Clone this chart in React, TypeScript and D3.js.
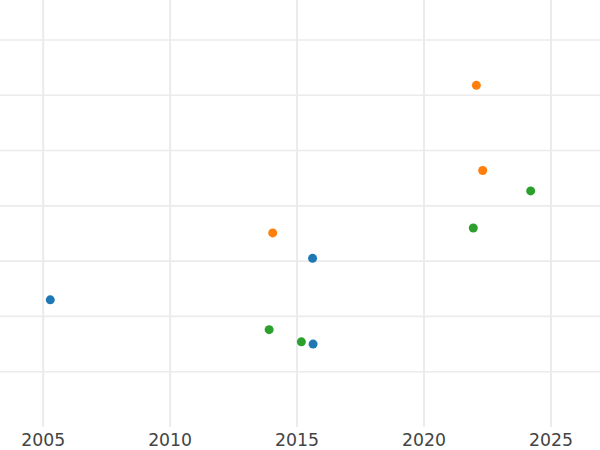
import React from "react";
import * as d3 from "d3";

const W = 600;
const H = 450;

const xTicks = [2005, 2010, 2015, 2020, 2025];
const yGrid = [10, 20, 30, 40, 50, 60, 70];

const seriesNames = ["blue", "orange", "green"];
const seriesColors = ["#1f77b4", "#ff7f0e", "#2ca02c"];

const blueX = [2005.28, 2015.61, 2015.63];
const blueY = [23.0, 30.5, 15.0];
const orangeX = [2022.06, 2022.31, 2014.04];
const orangeY = [61.8, 46.4, 35.1];
const greenX = [2024.2, 2021.94, 2013.9, 2015.17];
const greenY = [42.7, 36.0, 17.6, 15.4];

export default function App() {
  const plotBottom = 427;
  const x = d3.scaleLinear().domain([2003.3, 2026.93]).range([0, W]);
  const y = d3.scaleLinear().domain([0, 77.23]).range([plotBottom, 0]);
  const series = [
    { xs: blueX, ys: blueY },
    { xs: orangeX, ys: orangeY },
    { xs: greenX, ys: greenY },
  ];
  return (
    <svg
      width={W}
      height={H}
      style={{ position: "absolute", left: 0, top: 0, background: "#fff" }}
    >
      <g>
        {yGrid.map((v) => (
          <line key={"y" + v} x1={0} x2={W} y1={y(v)} y2={y(v)} stroke="#ebebeb" strokeWidth={1.6} />
        ))}
        {xTicks.map((t) => (
          <line key={"x" + t} x1={x(t)} x2={x(t)} y1={0} y2={plotBottom} stroke="#ebebeb" strokeWidth={2} />
        ))}
      </g>
      <g>
        {series.map((s, i) =>
          s.xs.map((xv, j) => (
            <circle
              key={seriesNames[i] + j}
              cx={x(xv)}
              cy={y(s.ys[j])}
              r={4.5}
              fill={seriesColors[i]}
            />
          ))
        )}
      </g>
      <g>
        {xTicks.map((t) => (
          <text
            key={"t" + t}
            x={x(t)}
            y={446}
            textAnchor="middle"
            fontFamily="DejaVu Sans"
            fontSize={17.3}
            fill="#444"
          >
            {t}
          </text>
        ))}
      </g>
    </svg>
  );
}
